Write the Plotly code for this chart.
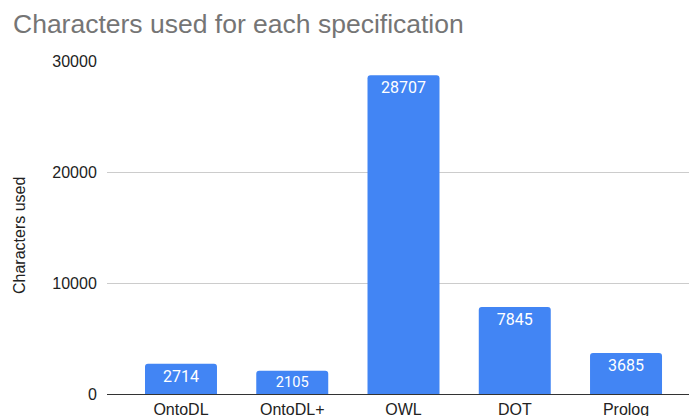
import plotly.graph_objects as go

categories = ["OntoDL", "OntoDL+", "OWL", "DOT", "Prolog"]
values = [2714, 2105, 28707, 7845, 3685]
y_ticks = [0, 10000, 20000, 30000]

W, H = 689, 416
ML, MR, MT, MB = 107, 0, 61, 22

fig = go.Figure()
fig.add_trace(go.Bar(
    x=categories,
    y=values,
    marker=dict(color="#4285F4", line=dict(width=0), cornerradius=3),
    text=[str(v) for v in values],
    textposition="inside",
    insidetextanchor="end",
    textfont=dict(family="Roboto, Arial, sans-serif", size=16, color="#ffffff"),
    textangle=0,
    width=0.647,
    hoverinfo="skip",
))

fig.update_layout(
    width=W,
    height=H,
    margin=dict(l=ML, r=MR, t=MT, b=MB, autoexpand=False),
    paper_bgcolor="white",
    plot_bgcolor="white",
    showlegend=False,
    title=dict(
        text="Characters used for each specification",
        x=13 / W, xanchor="left", xref="container",
        y=1 - 24 / H, yanchor="middle", yref="container",
        font=dict(family="Arial, Liberation Sans, sans-serif", size=26.5, color="#757575"),
    ),
    xaxis=dict(
        type="category",
        range=[-0.665, 4.566],
        showgrid=False,
        showline=True, linecolor="#333333", linewidth=1,
        ticks="", ticklabelstandoff=1,
        automargin=False,
        tickfont=dict(family="Arial, Liberation Sans, sans-serif", size=16, color="#222222"),
        fixedrange=True,
    ),
    yaxis=dict(
        range=[0, 30000],
        tickvals=y_ticks,
        ticktext=[str(t) for t in y_ticks],
        showgrid=True, gridcolor="#cccccc", gridwidth=1,
        zeroline=False,
        automargin=False,
        ticks="outside", ticklen=6, tickcolor="rgba(0,0,0,0)",
        tickfont=dict(family="Arial, Liberation Sans, sans-serif", size=16, color="#222222"),
        showline=False,
    ),
    annotations=[dict(
        text="Characters used",
        textangle=-90,
        x=(19 - ML) / (W - ML - MR), xref="paper", xanchor="center",
        y=(H - MB - 236) / (H - MT - MB), yref="paper", yanchor="middle",
        showarrow=False,
        font=dict(family="Arial, Liberation Sans, sans-serif", size=16, color="#222222"),
    )],
)

fig.write_html("out.html")
